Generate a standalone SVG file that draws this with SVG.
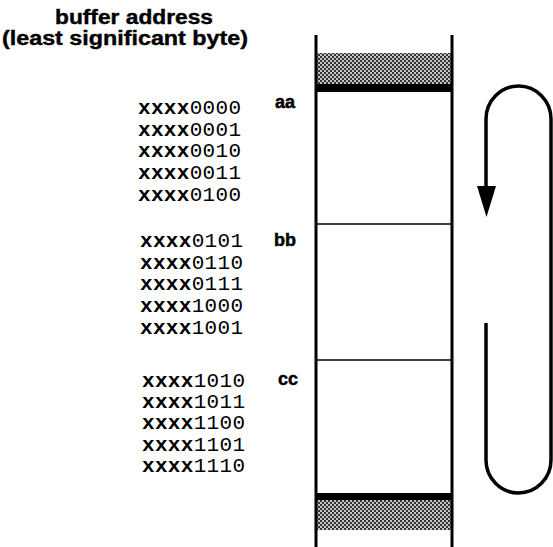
<svg xmlns="http://www.w3.org/2000/svg" width="553" height="547" viewBox="0 0 553 547">
<style>
.title{font-family:"Liberation Sans",Arial,sans-serif;font-weight:bold;font-size:20px;fill:#000;stroke:#000;stroke-width:0.4}
.addr{font-family:"Liberation Mono","Courier New",monospace;font-size:21px;fill:#000}
.addr tspan.x{font-weight:bold}
.lbl{font-family:"Liberation Sans",Arial,sans-serif;font-weight:bold;font-size:18px;fill:#000;stroke:#000;stroke-width:0.5}
.wall{stroke:#000;stroke-width:3;fill:none}
.div{stroke:#000;stroke-width:1.6;fill:none}
.loop{stroke:#000;stroke-width:3.5;fill:none}
</style>
<defs>
<pattern id="stip" width="4" height="4" patternUnits="userSpaceOnUse">
<rect width="4" height="4" fill="#c4c4c4"/>
<rect x="0" y="0" width="2" height="2" fill="#333"/>
<rect x="2" y="2" width="2" height="2" fill="#333"/>
</pattern>
</defs>
<rect width="553" height="547" fill="#fff"/>
<g id="title">
<text class="title" x="134" y="24" text-anchor="middle" textLength="158" lengthAdjust="spacingAndGlyphs">buffer address</text>
<text class="title" x="125" y="45" text-anchor="middle" textLength="246" lengthAdjust="spacingAndGlyphs">(least significant byte)</text>
</g>
<g id="addresses-aa">
<text class="addr" x="138" y="114" textLength="103"><tspan class="x">xxxx</tspan>0000</text>
<text class="addr" x="138" y="136" textLength="103"><tspan class="x">xxxx</tspan>0001</text>
<text class="addr" x="138" y="157" textLength="103"><tspan class="x">xxxx</tspan>0010</text>
<text class="addr" x="138" y="179" textLength="103"><tspan class="x">xxxx</tspan>0011</text>
<text class="addr" x="138" y="201" textLength="103"><tspan class="x">xxxx</tspan>0100</text>
</g>
<g id="addresses-bb">
<text class="addr" x="140" y="247" textLength="103"><tspan class="x">xxxx</tspan>0101</text>
<text class="addr" x="140" y="269" textLength="103"><tspan class="x">xxxx</tspan>0110</text>
<text class="addr" x="140" y="290" textLength="103"><tspan class="x">xxxx</tspan>0111</text>
<text class="addr" x="140" y="312" textLength="103"><tspan class="x">xxxx</tspan>1000</text>
<text class="addr" x="140" y="334" textLength="103"><tspan class="x">xxxx</tspan>1001</text>
</g>
<g id="addresses-cc">
<text class="addr" x="142" y="387" textLength="103"><tspan class="x">xxxx</tspan>1010</text>
<text class="addr" x="142" y="408" textLength="103"><tspan class="x">xxxx</tspan>1011</text>
<text class="addr" x="142" y="429" textLength="103"><tspan class="x">xxxx</tspan>1100</text>
<text class="addr" x="142" y="451" textLength="103"><tspan class="x">xxxx</tspan>1101</text>
<text class="addr" x="142" y="472" textLength="103"><tspan class="x">xxxx</tspan>1110</text>
</g>
<g id="buffer">
<rect x="316" y="53" width="136" height="31" fill="url(#stip)"/>
<rect x="316" y="84" width="136" height="8" fill="#000"/>
<rect x="316" y="500" width="136" height="30" fill="url(#stip)"/>
<rect x="316" y="493" width="136" height="7" fill="#000"/>
<line class="wall" x1="316" y1="35" x2="316" y2="547"/>
<line class="wall" x1="452" y1="35" x2="452" y2="547"/>
</g>
<g id="cell-aa">
<text class="lbl" x="275" y="108">aa</text>
</g>
<g id="cell-bb">
<line class="div" x1="316" y1="224" x2="452" y2="224"/>
<text class="lbl" x="274" y="246">bb</text>
</g>
<g id="cell-cc">
<line class="div" x1="316" y1="360" x2="452" y2="360"/>
<text class="lbl" x="278" y="385">cc</text>
</g>
<g id="connectors">
<path class="loop" d="M486 188 V119 A32.5 33 0 0 1 551 119 V460 A32.5 33 0 0 1 486 460 V323"/>
<polygon points="477,186 496,186 486.5,217" fill="#000"/>
</g>
</svg>
